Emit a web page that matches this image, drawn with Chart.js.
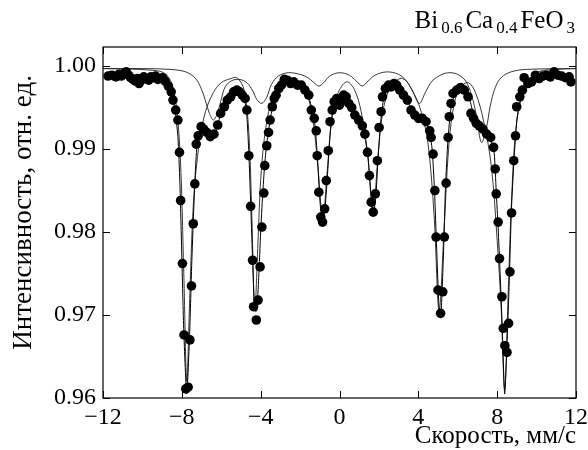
<!DOCTYPE html>
<html>
<head>
<meta charset="utf-8">
<script src="https://cdn.jsdelivr.net/npm/chart.js@4/dist/chart.umd.min.js"></script>
<style>
  html, body { margin: 0; padding: 0; background: #fff; }
  #wrap { width: 588px; height: 450px; }
</style>
</head>
<body>
<div id="wrap"><canvas id="spectrum"></canvas></div>
<script>
// measured spectrum (mm/s, relative intensity)
const velocity = [
  -11.74, -11.55, -11.35, -11.2, -11.07, -10.95, -10.82, -10.7, -10.6, -10.48,
  -10.36, -10.25, -10.17, -10.05, -9.93, -9.8, -9.68, -9.57, -9.45, -9.33,
  -9.22, -9.1, -8.98, -8.85, -8.69, -8.54, -8.45, -8.31, -8.2, -8.12,
  -8.06, -7.97, -7.89, -7.8, -7.68, -7.59, -7.51, -7.42, -7.34, -7.27,
  -7.17, -7.02, -6.89, -6.73, -6.56, -6.37, -6.18, -6.03, -5.84, -5.69,
  -5.52, -5.37, -5.21, -5.08, -4.93, -4.79, -4.7, -4.6, -4.51, -4.41,
  -4.36, -4.22, -4.13, -4.03, -3.94, -3.84, -3.79, -3.69, -3.6, -3.52,
  -3.41, -3.31, -3.22, -3.08, -2.95, -2.8, -2.65, -2.48, -2.32, -2.13,
  -1.94, -1.75, -1.56, -1.43, -1.28, -1.18, -1.13, -1.05, -0.95, -0.86,
  -0.75, -0.67, -0.57, -0.48, -0.37, -0.27, -0.14, 0.0, 0.09, 0.21,
  0.34, 0.47, 0.62, 0.78, 0.97, 1.16, 1.29, 1.42, 1.52, 1.61,
  1.71, 1.82, 1.92, 2.01, 2.11, 2.18, 2.33, 2.49, 2.62, 2.77,
  2.9, 3.06, 3.25, 3.44, 3.63, 3.82, 4.01, 4.2, 4.39, 4.58,
  4.65, 4.75, 4.84, 4.9, 5.0, 5.13, 5.24, 5.32, 5.41, 5.51,
  5.57, 5.66, 5.76, 5.95, 6.14, 6.33, 6.52, 6.67, 6.8, 6.94,
  7.09, 7.28, 7.47, 7.67, 7.82, 7.9, 7.95, 8.05, 8.12, 8.24,
  8.31, 8.39, 8.5, 8.58, 8.65, 8.73, 8.84, 8.93, 8.99, 9.15,
  9.28, 9.37, 9.56, 9.75, 9.94, 10.13, 10.32, 10.51, 10.7, 10.89,
  11.08, 11.27, 11.46, 11.65, 11.74
];
const intensity = [
  0.9988, 0.9989, 0.9987, 0.9990, 0.9988, 0.9991, 0.9993, 0.9989, 0.9986, 0.9984,
  0.9982, 0.9985, 0.9979, 0.9983, 0.9987, 0.9985, 0.9983, 0.9987, 0.9986, 0.9988,
  0.9984, 0.9985, 0.9986, 0.9982, 0.9976, 0.9969, 0.9959, 0.9947, 0.9935, 0.9896,
  0.9838, 0.9762, 0.9676, 0.9611, 0.9613, 0.9670, 0.9735, 0.9810, 0.9858, 0.9906,
  0.9916, 0.9927, 0.9924, 0.9920, 0.9915, 0.9918, 0.9929, 0.9943, 0.9951, 0.9959,
  0.9963, 0.9969, 0.9971, 0.9969, 0.9965, 0.9961, 0.9947, 0.9892, 0.9831, 0.9766,
  0.9710, 0.9694, 0.9718, 0.9758, 0.9806, 0.9847, 0.9880, 0.9904, 0.9920, 0.9935,
  0.9951, 0.9961, 0.9965, 0.9973, 0.9977, 0.9984, 0.9983, 0.9979, 0.9981, 0.9977,
  0.9977, 0.9971, 0.9965, 0.9947, 0.9937, 0.9922, 0.9892, 0.9848, 0.9818, 0.9812,
  0.9828, 0.9862, 0.9898, 0.9933, 0.9947, 0.9957, 0.9961, 0.9953, 0.9959, 0.9965,
  0.9963, 0.9955, 0.9950, 0.9941, 0.9935, 0.9928, 0.9918, 0.9896, 0.9868, 0.9836,
  0.9824, 0.9846, 0.9886, 0.9926, 0.9945, 0.9963, 0.9973, 0.9977, 0.9975, 0.9979,
  0.9977, 0.9971, 0.9965, 0.9959, 0.9947, 0.9941, 0.9937, 0.9937, 0.9933, 0.9922,
  0.9914, 0.9894, 0.9850, 0.9794, 0.9730, 0.9702, 0.9728, 0.9794, 0.9859, 0.9914,
  0.9939, 0.9955, 0.9967, 0.9971, 0.9974, 0.9971, 0.9963, 0.9943, 0.9937, 0.9931,
  0.9928, 0.9924, 0.9918, 0.9914, 0.9902, 0.9876, 0.9846, 0.9812, 0.9768, 0.9722,
  0.9684, 0.9663, 0.9655, 0.9690, 0.9752, 0.9823, 0.9886, 0.9916, 0.9951, 0.9963,
  0.9971, 0.9986, 0.9979, 0.9981, 0.9989, 0.9985, 0.9988, 0.9989, 0.9987, 0.9993,
  0.9989, 0.9988, 0.9986, 0.9987, 0.9981
];

// total fit curve
const fitVelocity = [
  -11.8, -11, -10, -9.4, -9.0, -8.7, -8.5, -8.35, -8.2, -8.1,
  -8.0, -7.9, -7.75, -7.6, -7.5, -7.4, -7.3, -7.2, -7.05, -6.9,
  -6.7, -6.5, -6.35, -6.2, -6.0, -5.8, -5.6, -5.35, -5.15, -4.95,
  -4.8, -4.7, -4.6, -4.5, -4.4, -4.3, -4.2, -4.1, -4.0, -3.9,
  -3.8, -3.7, -3.55, -3.4, -3.2, -3.0, -2.7, -2.4, -2.1, -1.8,
  -1.55, -1.4, -1.25, -1.12, -1.0, -0.88, -0.75, -0.62, -0.5, -0.38,
  -0.2, 0.0, 0.25, 0.5, 0.8, 1.05, 1.3, 1.45, 1.6, 1.72,
  1.85, 1.97, 2.1, 2.25, 2.5, 2.8, 3.1, 3.4, 3.7, 4.0,
  4.3, 4.55, 4.7, 4.82, 4.93, 5.05, 5.15, 5.27, 5.38, 5.5,
  5.65, 5.85, 6.1, 6.35, 6.6, 6.8, 7.1, 7.4, 7.7, 7.85,
  7.95, 8.05, 8.15, 8.25, 8.38, 8.5, 8.62, 8.72, 8.85, 9.0,
  9.2, 9.5, 10, 10.8, 11.8
];
const fitIntensity = [
  0.9988, 0.9988, 0.9987, 0.9985, 0.9982, 0.9975, 0.9965, 0.9948, 0.9915, 0.9860,
  0.9770, 0.9680, 0.9605, 0.9680, 0.9760, 0.9825, 0.9880, 0.9912, 0.9925, 0.9926,
  0.9921, 0.9917, 0.9918, 0.9928, 0.9944, 0.9955, 0.9962, 0.9968, 0.9970, 0.9966,
  0.9958, 0.9940, 0.9895, 0.9830, 0.9760, 0.9705, 0.9705, 0.9745, 0.9800, 0.9845,
  0.9880, 0.9905, 0.9930, 0.9950, 0.9963, 0.9974, 0.9981, 0.9981, 0.9978, 0.9972,
  0.9962, 0.9948, 0.9930, 0.9890, 0.9840, 0.9812, 0.9825, 0.9865, 0.9910, 0.9940,
  0.9955, 0.9958, 0.9962, 0.9956, 0.9942, 0.9930, 0.9912, 0.9890, 0.9845, 0.9822,
  0.9845, 0.9895, 0.9935, 0.9962, 0.9975, 0.9978, 0.9971, 0.9960, 0.9946, 0.9938,
  0.9935, 0.9922, 0.9900, 0.9850, 0.9780, 0.9710, 0.9702, 0.9770, 0.9855, 0.9910,
  0.9948, 0.9966, 0.9972, 0.9970, 0.9960, 0.9942, 0.9930, 0.9920, 0.9910, 0.9895,
  0.9850, 0.9805, 0.9750, 0.9690, 0.9605, 0.9665, 0.9745, 0.9825, 0.9885, 0.9935,
  0.9960, 0.9976, 0.9984, 0.9987, 0.9988
];

// weak sextet
const sextetAVelocity = [
  -12, -10, -8.6, -7.8, -7.3, -7.0, -6.8, -6.6, -6.4, -6.2,
  -6.0, -5.8, -5.5, -5.1, -4.7, -4.4, -4.2, -3.95, -3.7, -3.45,
  -3.1, -2.6, -2.0, -1.6, -1.3, -1.05, -0.8, -0.5, 0.0, 0.5,
  0.85, 1.15, 1.45, 1.8, 2.4, 3.0, 3.4, 3.7, 4.05, 4.35,
  4.7, 5.2, 5.6, 6.0, 6.4, 6.7, 6.95, 7.2, 7.45, 7.65,
  7.9, 8.2, 8.7, 9.5, 12
];
const sextetAIntensity = [
  0.9997, 0.9997, 0.9996, 0.9993, 0.9985, 0.9972, 0.9958, 0.9943, 0.9935, 0.9943,
  0.9960, 0.9975, 0.9982, 0.9984, 0.9980, 0.9970, 0.9960, 0.9955, 0.9962, 0.9978,
  0.9988, 0.9992, 0.9990, 0.9986, 0.9980, 0.9976, 0.9980, 0.9988, 0.9992, 0.9989,
  0.9982, 0.9976, 0.9982, 0.9989, 0.9993, 0.9990, 0.9982, 0.9970, 0.9955, 0.9968,
  0.9982, 0.9990, 0.9992, 0.9990, 0.9982, 0.9965, 0.9940, 0.9908, 0.9925, 0.9952,
  0.9974, 0.9986, 0.9993, 0.9996, 0.9997
];

// strong sextet
const sextetBVelocity = [
  -12, -9.5, -8.8, -8.4, -8.1, -7.9, -7.75, -7.6, -7.4, -7.1,
  -6.8, -6.4, -6.0, -5.5, -5.2, -4.85, -4.6, -4.45, -4.3, -4.15,
  -3.95, -3.6, -3.2, -2.8, -2.5, -2.1, -1.7, -1.35, -1.1, -0.85,
  -0.6, -0.4, -0.1, 0.35, 0.75, 1.1, 1.4, 1.7, 1.95, 2.2,
  2.6, 3.2, 3.8, 4.2, 4.5, 4.8, 5.05, 5.3, 5.55, 5.85,
  6.2, 6.55, 6.9, 7.3, 7.7, 8.0, 8.2, 8.38, 8.55, 8.75,
  9.0, 9.4, 10, 11, 12
];
const sextetBIntensity = [
  0.9997, 0.9995, 0.9990, 0.9970, 0.9900, 0.9750, 0.9620, 0.9720, 0.9840, 0.9910,
  0.9945, 0.9968, 0.9980, 0.9985, 0.9986, 0.9972, 0.9920, 0.9820, 0.9705, 0.9780,
  0.9880, 0.9945, 0.9972, 0.9982, 0.9983, 0.9980, 0.9970, 0.9935, 0.9880, 0.9818,
  0.9880, 0.9935, 0.9966, 0.9981, 0.9972, 0.9945, 0.9900, 0.9825, 0.9890, 0.9945,
  0.9975, 0.9985, 0.9966, 0.9940, 0.9905, 0.9820, 0.9705, 0.9800, 0.9905, 0.9958,
  0.9976, 0.9980, 0.9968, 0.9935, 0.9880, 0.9790, 0.9710, 0.9610, 0.9720, 0.9850,
  0.9935, 0.9975, 0.9992, 0.9996, 0.9997
];

const xTicks = [-12, -8, -4, 0, 4, 8, 12];
const xTickLabels = ['\u221212', '\u22128', '\u22124', '0', '4', '8', '12'];
const yTicks = [0.96, 0.97, 0.98, 0.99, 1.00];
const yTickLabels = ['0.96', '0.97', '0.98', '0.99', '1.00'];

const serif = 'Liberation Serif';

function pairs(xs, ys) {
  return xs.map((v, i) => ({ x: v, y: ys[i] }));
}

// frame, inward ticks on all four sides and the compound label
const framePlugin = {
  id: 'frame',
  afterDraw(chart) {
    const { ctx, chartArea: a, scales: { x, y } } = chart;
    ctx.save();
    ctx.strokeStyle = '#000';
    ctx.lineWidth = 1.2;
    ctx.strokeRect(a.left, a.top, a.right - a.left, a.bottom - a.top);
    const len = 7;
    ctx.beginPath();
    xTicks.forEach(v => {
      const px = Math.round(x.getPixelForValue(v)) + 0.5;
      ctx.moveTo(px, a.bottom); ctx.lineTo(px, a.bottom - len);
      ctx.moveTo(px, a.top); ctx.lineTo(px, a.top + len);
    });
    yTicks.forEach(v => {
      const py = Math.round(y.getPixelForValue(v)) + 0.5;
      ctx.moveTo(a.left, py); ctx.lineTo(a.left + len, py);
      ctx.moveTo(a.right, py); ctx.lineTo(a.right - len, py);
    });
    ctx.lineWidth = 1;
    ctx.stroke();

    // Bi0.6Ca0.4FeO3, right aligned above the frame
    const parts = [['Bi', 0], ['0.6', 1], ['Ca', 0], ['0.4', 1], ['FeO', 0], ['3', 1]];
    const big = '25px "' + serif + '"', small = '17px "' + serif + '"';
    const gap = 3;
    let total = 0;
    parts.forEach(([t, sub]) => { ctx.font = sub ? small : big; total += ctx.measureText(t).width + gap; });
    total -= gap;
    let px = 575 - total;
    ctx.fillStyle = '#000';
    ctx.textBaseline = 'alphabetic';
    ctx.textAlign = 'left';
    parts.forEach(([t, sub]) => {
      ctx.font = sub ? small : big;
      ctx.fillText(t, px, sub ? 33 : 28);
      px += ctx.measureText(t).width + gap;
    });
    ctx.restore();
  }
};

new Chart(document.getElementById('spectrum'), {
  type: 'scatter',
  data: {
    datasets: [
      {
        label: 'эксперимент',
        data: pairs(velocity, intensity),
        showLine: false,
        pointRadius: 4.8,
        pointBackgroundColor: '#000',
        pointBorderWidth: 0,
        order: 0
      },
      {
        label: 'сумма',
        data: pairs(fitVelocity, fitIntensity),
        showLine: true,
        borderColor: '#000',
        borderWidth: 1,
        pointRadius: 0,
        tension: 0.2,
        order: 1
      },
      {
        label: 'секстет 1',
        data: pairs(sextetAVelocity, sextetAIntensity),
        showLine: true,
        borderColor: '#222',
        borderWidth: 0.9,
        pointRadius: 0,
        tension: 0.35,
        order: 2
      },
      {
        label: 'секстет 2',
        data: pairs(sextetBVelocity, sextetBIntensity),
        showLine: true,
        borderColor: '#222',
        borderWidth: 0.9,
        pointRadius: 0,
        tension: 0.35,
        order: 3
      }
    ]
  },
  options: {
    animation: false,
    responsive: true,
    maintainAspectRatio: false,
    devicePixelRatio: 1,
    layout: { padding: { top: 47, right: 12, left: 0, bottom: 0 } },
    plugins: { legend: { display: false }, tooltip: { enabled: false } },
    scales: {
      x: {
        type: 'linear',
        min: -12,
        max: 12,
        afterBuildTicks: s => { s.ticks = xTicks.map(v => ({ value: v })); },
        afterFit: s => { s.height = 52; s.paddingLeft = 0; s.paddingRight = 0; },
        grid: { display: false, drawTicks: false },
        border: { display: false },
        ticks: {
          padding: 5,
          color: '#000',
          maxRotation: 0,
          autoSkip: false,
          font: { family: serif, size: 24 },
          callback: v => xTickLabels[xTicks.indexOf(v)]
        },
        title: {
          display: true,
          text: 'Скорость, мм/с',
          align: 'end',
          color: '#000',
          font: { family: serif, size: 25 },
          padding: { top: 0, bottom: -1 }
        }
      },
      y: {
        type: 'linear',
        min: 0.96,
        max: 1.0023,
        afterBuildTicks: s => { s.ticks = yTicks.map(v => ({ value: v })); },
        afterFit: s => { s.width = 103; s.paddingTop = 0; s.paddingBottom = 0; },
        grid: { display: false, drawTicks: false },
        border: { display: false },
        ticks: {
          padding: 7,
          color: '#000',
          font: { family: serif, size: 24 },
          callback: v => yTickLabels[yTicks.findIndex(t => Math.abs(t - v) < 1e-6)]
        },
        title: {
          display: true,
          // leading spaces lift the centred text to where the original sits
          text: '   Интенсивность, отн. ед.',
          color: '#000',
          font: { family: serif, size: 27 },
          padding: { top: 8, bottom: 0 }
        }
      }
    }
  },
  plugins: [framePlugin]
});
</script>
</body>
</html>
